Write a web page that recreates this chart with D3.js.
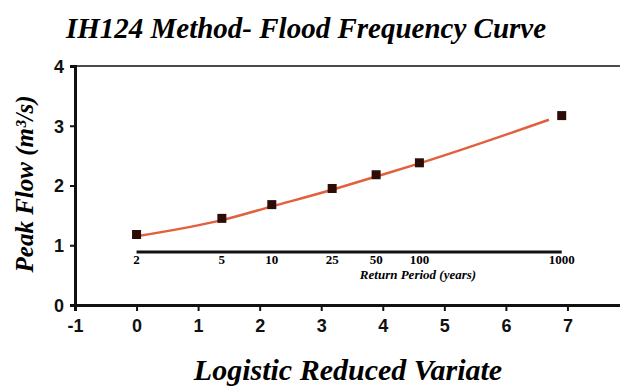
<!DOCTYPE html>
<html>
<head>
<meta charset="utf-8">
<script src="https://cdn.jsdelivr.net/npm/d3@7"></script>
<style>
  body { margin: 0; background: #fff; }
  svg { display: block; }
  .serif { font-family: "Liberation Serif", "Times New Roman", serif; font-weight: bold; font-style: italic; }
  .tick text { font-family: "Liberation Sans", Arial, sans-serif; font-weight: bold; font-size: 18px; fill: #111; }
</style>
</head>
<body>
<svg></svg>
<script>
// IH124 flood frequency curve

var returnPeriods = [2, 5, 10, 25, 50, 100, 1000];
var reducedVariate = [0, 1.386, 2.197, 3.178, 3.892, 4.595, 6.907];
var peakFlow = [1.18, 1.45, 1.68, 1.95, 2.18, 2.38, 3.17];

// fitted growth curve
var fitX = [0, 1.386, 2.197, 3.178, 3.892, 4.595, 6.7];
var fitY = [1.15, 1.42, 1.65, 1.93, 2.15, 2.37, 3.1];

var xTicks = [-1, 0, 1, 2, 3, 4, 5, 6, 7];
var yTicks = [0, 1, 2, 3, 4];

var width = 620;
var height = 387;
var svg = d3.select('svg')
              .attr('width', width)
              .attr('height', height);

var x = d3.scaleLinear().domain([-1, 8]).range([75, 629]);
var y = d3.scaleLinear().domain([0, 4]).range([305, 66]);

// top frame line
svg.append('line')
    .attr('x1', x(-1)).attr('x2', width)
    .attr('y1', y(4)).attr('y2', y(4))
    .attr('stroke', '#111').attr('stroke-width', 1.5);

var xAxis = svg.append('g')
    .attr('transform', `translate(0, ${y(0)})`)
    .call(d3.axisBottom(x).tickValues(xTicks).tickSize(6).tickPadding(8).tickFormat(d => String(d)));
xAxis.select('.domain').attr('stroke-width', 3).attr('stroke', '#111');
xAxis.selectAll('.tick line').attr('stroke-width', 2).attr('stroke', '#111');

var yAxis = svg.append('g')
    .attr('transform', `translate(${x(-1)}, 0)`)
    .call(d3.axisLeft(y).tickValues(yTicks).tickSize(5).tickPadding(6).tickFormat(d => String(d)));
yAxis.select('.domain').attr('stroke-width', 3).attr('stroke', '#111');
yAxis.selectAll('.tick line').attr('stroke-width', 2).attr('stroke', '#111');
yAxis.selectAll('.tick text').attr('dy', '0.36em');

// return period axis drawn inside the plot
var rpY = 252;
svg.append('line')
    .attr('x1', x(reducedVariate[0])).attr('x2', x(reducedVariate[reducedVariate.length - 1]))
    .attr('y1', rpY).attr('y2', rpY)
    .attr('stroke', '#111').attr('stroke-width', 3);

svg.append('g')
  .selectAll('text')
  .data(returnPeriods)
  .enter()
  .append('text')
    .attr('class', 'serif')
    .attr('x', (d, i) => x(reducedVariate[i]))
    .attr('y', rpY + 12)
    .attr('text-anchor', 'middle')
    .attr('font-size', 13)
    .style('font-style', 'normal')
    .text(d => d);

svg.append('text')
    .attr('class', 'serif')
    .attr('x', 418)
    .attr('y', rpY + 27)
    .attr('text-anchor', 'middle')
    .attr('font-size', 13)
    .text('Return Period (years)');

// fitted line
var line = d3.line()
    .x(d => x(d[0]))
    .y(d => y(d[1]))
    .curve(d3.curveMonotoneX);

svg.append('path')
    .datum(fitX.map((v, i) => [v, fitY[i]]))
    .attr('d', line)
    .attr('fill', 'none')
    .attr('stroke', '#e2603c')
    .attr('stroke-width', 2.5);

// observed points
svg.append('g')
  .selectAll('rect')
  .data(peakFlow)
  .enter()
  .append('rect')
    .attr('x', (d, i) => x(reducedVariate[i]) - 4.5)
    .attr('y', d => y(d) - 4.5)
    .attr('width', 9)
    .attr('height', 9)
    .attr('fill', '#2b0c06');

// titles
svg.append('text')
    .attr('class', 'serif')
    .attr('x', 306)
    .attr('y', 38)
    .attr('text-anchor', 'middle')
    .attr('font-size', 29)
    .text('IH124 Method- Flood Frequency Curve');

svg.append('text')
    .attr('class', 'serif')
    .attr('x', 348)
    .attr('y', 380)
    .attr('text-anchor', 'middle')
    .attr('font-size', 30)
    .text('Logistic Reduced Variate');

svg.append('text')
    .attr('class', 'serif')
    .attr('transform', 'translate(33, 184) rotate(-90)')
    .attr('text-anchor', 'middle')
    .attr('font-size', 25)
    .text('Peak Flow (m³/s)');
</script>
</body>
</html>
